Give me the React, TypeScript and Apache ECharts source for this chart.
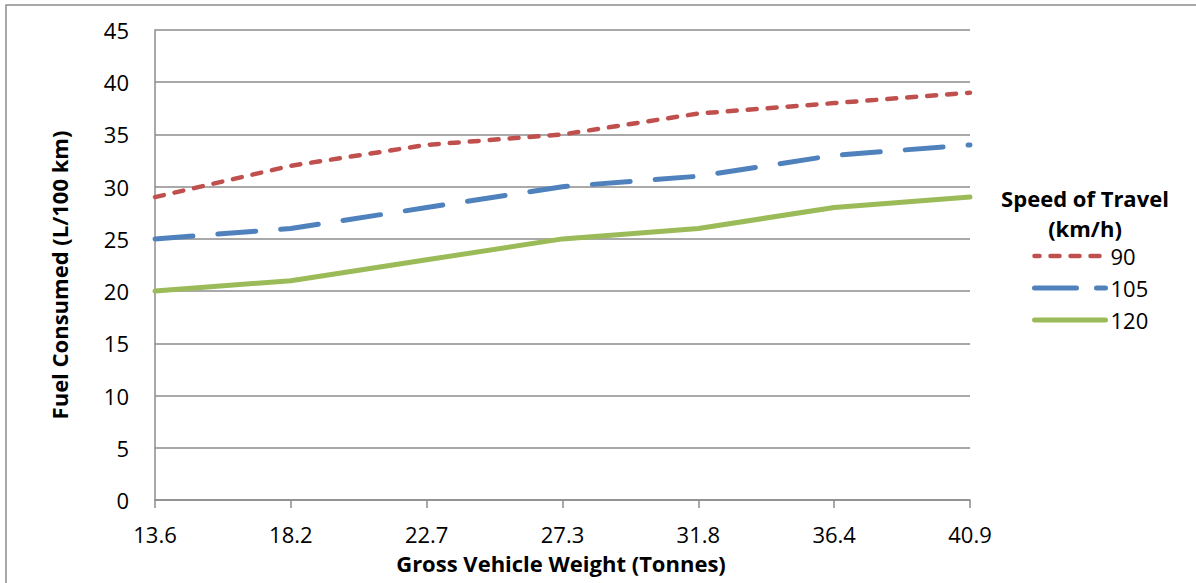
import React, { useEffect, useRef } from "react";
import * as echarts from "echarts";

// Gross vehicle weight (tonnes) on the category axis
const weights = ["13.6", "18.2", "22.7", "27.3", "31.8", "36.4", "40.9"];

// Fuel consumed (L/100 km) for each speed of travel
const speed90 = [29, 32, 34, 35, 37, 38, 39];
const speed105 = [25, 26, 28, 30, 31, 33, 34];
const speed120 = [20, 21, 23, 25, 26, 28, 29];

const FONT = "'Open Sans', 'Noto Sans', sans-serif";
const GRID_COLOR = "#8c8c8c";

const STYLE_90 = { color: "#C0504D", width: 4.5, type: [9, 11] as number[], cap: "round", join: "round" };
const STYLE_105 = { color: "#4F81BD", width: 5, type: [38, 25] as number[], cap: "round", join: "round" };
const STYLE_120 = { color: "#9BBB59", width: 5, type: "solid", cap: "round", join: "round" };

export default function App() {
  const ref = useRef<HTMLDivElement>(null);

  useEffect(() => {
    if (!ref.current) return;
    const chart = echarts.init(ref.current, undefined, { renderer: "svg" });
    const titleText = (text: string, x: number, y: number, rotation = 0) => ({
      type: "text",
      x,
      y,
      rotation,
      silent: true,
      style: {
        text,
        font: `bold 22px ${FONT}`,
        lineHeight: 20,
        fill: "#000",
        align: "center",
        verticalAlign: "middle",
      },
    });
    chart.setOption({
      animation: false,
      backgroundColor: "#ffffff",
      textStyle: { fontFamily: FONT },
      grid: { left: 155, right: 226, top: 30, bottom: 83, containLabel: false },
      xAxis: {
        type: "category",
        data: weights,
        boundaryGap: false,
        axisLine: { show: true, lineStyle: { color: GRID_COLOR, width: 1.5 } },
        axisTick: { show: true, length: 8, lineStyle: { color: GRID_COLOR, width: 1.5 } },
        axisLabel: { color: "#000", fontSize: 22, margin: 23, fontFamily: FONT },
        splitLine: { show: false },
      },
      yAxis: {
        type: "value",
        min: 0,
        max: 45,
        interval: 5,
        axisLine: { show: true, lineStyle: { color: GRID_COLOR, width: 1.5 } },
        axisTick: { show: false },
        axisLabel: { color: "#000", fontSize: 22, margin: 26, fontFamily: FONT },
        splitLine: { show: true, lineStyle: { color: GRID_COLOR, width: 1.5 } },
      },
      legend: {
        orient: "vertical",
        left: 1027,
        top: 240,
        itemWidth: 71,
        itemHeight: 22,
        itemGap: 10,
        itemStyle: { opacity: 0 },
        data: [
          { name: "90", itemStyle: { opacity: 0 }, lineStyle: { ...STYLE_90, dashOffset: 4 } },
          { name: "105", itemStyle: { opacity: 0 }, lineStyle: { ...STYLE_105, type: [42, 20] } },
          { name: "120", itemStyle: { opacity: 0 }, lineStyle: STYLE_120 },
        ],
        textStyle: { color: "#000", fontSize: 22, lineHeight: 20, fontFamily: FONT },
      },
      graphic: [
        {
          type: "rect",
          silent: true,
          shape: { x: 6, y: 5, width: 1300, height: 700 },
          style: { fill: "none", stroke: "#8c8c8c", lineWidth: 1.5 },
        },
        titleText("Fuel Consumed (L/100 km)", 59, 275, Math.PI / 2),
        titleText("Gross Vehicle Weight (Tonnes)", 561, 563),
        titleText("Speed of Travel", 1085, 198),
        titleText("(km/h)", 1085, 228),
      ],
      series: [
        {
          name: "90",
          type: "line",
          data: speed90,
          symbol: "none",
          lineStyle: STYLE_90,
          itemStyle: { color: "#C0504D" },
        },
        {
          name: "105",
          type: "line",
          data: speed105,
          symbol: "none",
          lineStyle: STYLE_105,
          itemStyle: { color: "#4F81BD" },
        },
        {
          name: "120",
          type: "line",
          data: speed120,
          symbol: "none",
          lineStyle: STYLE_120,
          itemStyle: { color: "#9BBB59" },
        },
      ],
    });
    return () => chart.dispose();
  }, []);

  return (
    <div
      ref={ref}
      style={{ position: "fixed", left: 0, top: 0, width: 1196, height: 583, background: "#fff" }}
    />
  );
}
